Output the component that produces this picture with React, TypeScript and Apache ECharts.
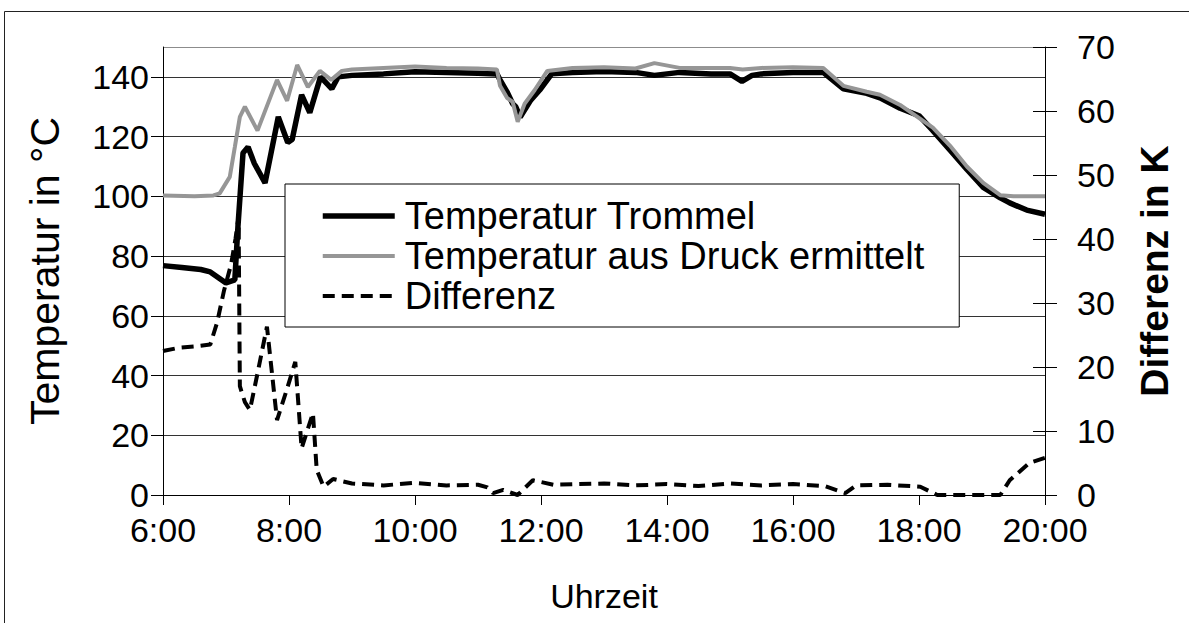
import React, { useEffect, useRef } from "react";
import * as echarts from "echarts";

// Time axis (hours) and tick labels
const xTicks = [6, 8, 10, 12, 14, 16, 18, 20];

// Temperatur Trommel (left axis, °C)
const trommelT = [6.0, 6.3, 6.6, 6.75, 7.0, 7.14, 7.19, 7.27, 7.35, 7.45, 7.62, 7.72, 7.83, 7.98, 8.05, 8.2, 8.33, 8.5, 8.68, 8.78, 9.0, 9.5, 10.0, 10.5, 11.0, 11.3, 11.35, 11.46, 11.55, 11.6, 11.67, 11.83, 11.98, 12.17, 12.5, 13.0, 13.5, 13.8, 14.2, 14.7, 15.0, 15.19, 15.35, 15.5, 16.0, 16.48, 16.8, 17.17, 17.38, 17.7, 18.0, 18.22, 18.49, 18.76, 19.02, 19.29, 19.44, 19.71, 20.0];
const trommelV = [76.8, 76.2, 75.5, 74.7, 71, 72, 90, 114.5, 116.5, 111, 104.5, 115, 126.6, 118, 119, 134, 128, 140, 136, 140, 140.5, 141, 141.7, 141.5, 141.2, 141, 139, 135, 131, 130, 126.5, 132, 135.6, 141, 141.5, 141.8, 141.5, 140.5, 141.5, 141, 141, 138.5, 140.5, 141, 141.5, 141.5, 136, 134.5, 133, 129.5, 127, 122, 115.5, 109, 103, 99.5, 97.8, 95.4, 94];

// Temperatur aus Druck ermittelt (left axis, °C)
const druckT = [6.0, 6.5, 6.8, 6.9, 7.06, 7.14, 7.22, 7.3, 7.5, 7.81, 7.97, 8.13, 8.3, 8.49, 8.67, 8.84, 9.0, 9.5, 10.0, 10.5, 11.0, 11.3, 11.35, 11.46, 11.55, 11.63, 11.74, 11.9, 12.1, 12.5, 13.0, 13.5, 13.8, 14.2, 15.0, 15.2, 15.5, 16.0, 16.48, 16.8, 17.17, 17.38, 17.7, 18.22, 18.49, 18.76, 19.02, 19.29, 19.5, 20.0];
const druckV = [100.3, 100, 100.3, 101, 106.5, 116.5, 126.6, 130, 122, 139, 132, 144, 136.6, 142, 139, 142, 142.5, 143, 143.5, 143, 142.8, 142.5, 137, 133, 131.6, 125, 131, 135.6, 142, 143, 143.2, 142.8, 144.6, 143, 143, 142.5, 143, 143.2, 143, 137, 135, 134, 130.6, 123, 117, 110, 104.5, 100.4, 100, 100];

// Differenz (right axis, K)
const diffT = [6.0, 6.25, 6.5, 6.75, 6.86, 6.97, 7.08, 7.15, 7.2, 7.22, 7.3, 7.38, 7.5, 7.65, 7.81, 7.95, 8.1, 8.2, 8.38, 8.44, 8.55, 8.7, 9.0, 9.5, 10.0, 10.5, 11.0, 11.15, 11.24, 11.4, 11.63, 11.87, 12.2, 13.0, 13.5, 14.0, 14.5, 15.0, 15.5, 16.0, 16.5, 16.83, 17.0, 17.5, 18.02, 18.29, 19.29, 19.44, 19.75, 20.0];
const diffV = [22.5, 23, 23.2, 23.5, 27, 32, 36, 40, 43.5, 17, 14.5, 13.3, 19, 26.3, 11.7, 16, 20.8, 7.3, 12.8, 3.9, 1.3, 2.5, 1.8, 1.5, 1.9, 1.5, 1.6, 1.2, 0.3, 0.8, 0, 2.3, 1.6, 1.8, 1.5, 1.7, 1.4, 1.8, 1.5, 1.7, 1.4, 0.3, 1.5, 1.6, 1.3, 0, 0, 2.3, 5, 5.8];

const seriesNames = ["Temperatur Trommel", "Temperatur aus Druck ermittelt", "Differenz"];

const zip = (t: number[], v: number[]) => t.map((x, i) => [x, v[i]]);

const FONT = "'Liberation Sans', Arial, sans-serif";

export default function App() {
  const ref = useRef<HTMLDivElement>(null);
  useEffect(() => {
    document.body.style.margin = "0";
    const chart = echarts.init(ref.current!, null, { renderer: "svg" });
    const fs = 34;
    const styles = [
      { color: "#000", width: 5.5, type: "solid" as any },
      { color: "#969696", width: 4, type: "solid" as any },
      { color: "#000", width: 4, type: [12, 7] as any },
    ];
    chart.setOption({
      animation: false,
      backgroundColor: "#fff",
      textStyle: { fontFamily: FONT },
      grid: { left: 163, right: 144, top: 47, bottom: 128, containLabel: false },
      graphic: [
        {
          type: "rect",
          shape: { x: 4.5, y: 11.5, width: 1300, height: 800 },
          style: { fill: "none", stroke: "#222", lineWidth: 1 },
          silent: true,
          z: -10,
        },
      ],
      legend: {
        orient: "vertical",
        left: 285,
        top: 184,
        z: 10,
        padding: [12, 35, 11, 35],
        itemGap: 0,
        itemWidth: 72,
        itemHeight: 14,
        backgroundColor: "#fff",
        borderColor: "#000",
        borderWidth: 1,
        borderRadius: 0,
        textStyle: { fontFamily: FONT, fontSize: 38, color: "#000", lineHeight: 40, padding: [0, 0, 0, 5] },
        data: seriesNames.map((n, i) => ({
          name: n,
          itemStyle: { opacity: 0 },
          lineStyle: { ...styles[i] },
        })),
      },
      xAxis: {
        type: "value",
        min: 6,
        max: 20,
        interval: 2,
        name: "Uhrzeit",
        nameLocation: "middle",
        nameGap: 84,
        nameTextStyle: { fontFamily: FONT, fontSize: fs, color: "#000" },
        axisLine: { lineStyle: { color: "#000", width: 1 } },
        axisTick: { show: true, length: 10, lineStyle: { color: "#000" } },
        axisLabel: {
          fontFamily: FONT,
          fontSize: fs,
          color: "#000",
          margin: 18,
          formatter: (v: number) => (xTicks.includes(v) ? `${v}:00` : ""),
        },
        splitLine: { show: false },
      },
      yAxis: [
        {
          type: "value",
          min: 0,
          max: 150,
          interval: 20,
          position: "left",
          name: "Temperatur in °C",
          nameLocation: "middle",
          nameGap: 98,
          nameRotate: 90,
          nameTextStyle: { fontFamily: FONT, fontSize: 41, color: "#000" },
          axisLine: { show: true, lineStyle: { color: "#000", width: 1 } },
          axisTick: { show: true, length: 12, lineStyle: { color: "#000" } },
          axisLabel: { fontFamily: FONT, fontSize: fs, color: "#000", margin: 14, showMaxLabel: false },
          splitLine: {
            show: true,
            lineStyle: {
              color: ["#333", "#333", "#333", "#333", "#333", "#333", "#333", "#333", "#8c8c8c"],
              width: 1,
            },
          },
        },
        {
          type: "value",
          min: 0,
          max: 70,
          interval: 10,
          position: "right",
          name: "Differenz in K",
          nameLocation: "middle",
          nameGap: 90,
          nameRotate: 90,
          nameTextStyle: { fontFamily: FONT, fontSize: 39, color: "#000", fontWeight: "bold" },
          axisLine: { show: true, lineStyle: { color: "#000", width: 1 } },
          axisTick: { show: true, length: 12, lineStyle: { color: "#000" } },
          axisLabel: { fontFamily: FONT, fontSize: fs, color: "#000", margin: 32 },
          splitLine: { show: false },
        },
        {
          type: "value",
          min: 0,
          max: 70,
          interval: 10,
          position: "right",
          axisLine: { show: false },
          axisTick: { show: true, inside: true, length: 12, lineStyle: { color: "#000" } },
          axisLabel: { show: false },
          splitLine: { show: false },
        },
      ],
      series: [
        {
          name: seriesNames[0],
          type: "line",
          yAxisIndex: 0,
          data: zip(trommelT, trommelV),
          showSymbol: false,
          symbol: "none",
          color: "#000",
          lineStyle: styles[0],
          z: 3,
        },
        {
          name: seriesNames[1],
          type: "line",
          yAxisIndex: 0,
          data: zip(druckT, druckV),
          showSymbol: false,
          symbol: "none",
          color: "#969696",
          lineStyle: styles[1],
          z: 4,
        },
        {
          name: seriesNames[2],
          type: "line",
          yAxisIndex: 1,
          data: zip(diffT, diffV),
          showSymbol: false,
          symbol: "none",
          color: "#000",
          lineStyle: styles[2],
          z: 5,
        },
      ],
    });
    return () => chart.dispose();
  }, []);
  return <div ref={ref} style={{ position: "absolute", left: 0, top: 0, width: 1189, height: 623 }} />;
}
